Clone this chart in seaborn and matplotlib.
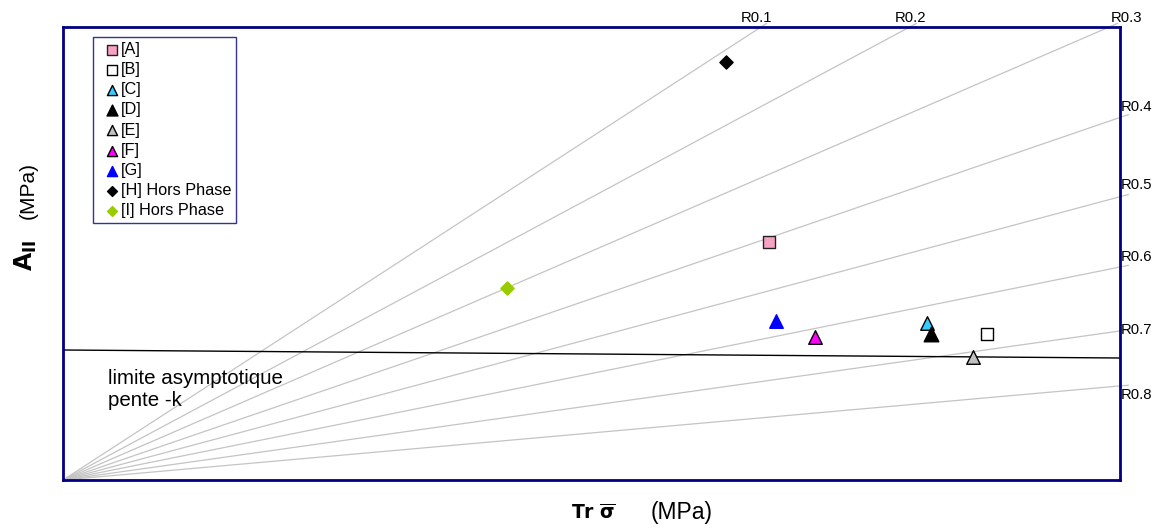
#ratio lines chart
import matplotlib
matplotlib.use("Agg")
import matplotlib.pyplot as plt
import seaborn as sns

# ray labels and their slopes (A / Tr)
ray_names = ['R0.1', 'R0.2', 'R0.3', 'R0.4', 'R0.5', 'R0.6', 'R0.7', 'R0.8']
ray_slopes = [0.649, 0.535, 0.433, 0.343, 0.268, 0.2015, 0.141, 0.089]

# measured points
point_names = ['[A]', '[B]', '[C]', '[D]', '[E]', '[F]', '[G]', '[H] Hors Phase', '[I] Hors Phase']
tr_sigma = [70.6, 92.4, 86.4, 86.8, 91.0, 75.2, 71.3, 66.3, 44.4]
a_ii = [23.8, 14.6, 15.7, 14.6, 12.3, 14.3, 15.9, 41.8, 19.2]

# asymptotic limit line
limit_x = [0, 105.7]
limit_y = [13.0, 12.2]

markers = ['s', 's', '^', '^', '^', '^', '^', 'D', 'D']
fills = ['#f7a1c4', 'white', '#33ccff', 'black', '#c0c0c0', '#ff00ff', '#0000ff', 'black', '#99cc00']
edges = ['#222222', 'black', 'black', 'black', 'black', 'black', '#0000ff', 'black', '#99cc00']
sizes = [85, 85, 95, 110, 95, 95, 95, 45, 45]

sns.set_theme(style='white')
plt.rcParams['font.family'] = ['Liberation Sans', 'DejaVu Sans']
plt.rcParams['text.color'] = 'black'

fig = plt.figure(figsize=(11.61, 5.28), dpi=100)
ax = fig.add_axes([63/1161, 48/528, 1057/1161, 453/528])
xmax, ymax = 105.7, 45.3
ax.set_xlim(0, xmax)
ax.set_ylim(0, ymax)

for name, k in zip(ray_names, ray_slopes):
    xe = min(xmax, ymax / k) * 1.008
    ax.plot([0, xe], [0, xe * k], color='#c4c4c4', lw=0.9, clip_on=False, zorder=1)

# label positions (text layout)
label_pos = [(69.4, 46.2, 'center'), (84.8, 46.2, 'center'), (106.4, 46.2, 'center'),
             (105.8, 37.3, 'left'), (105.8, 29.5, 'left'), (105.8, 22.3, 'left'),
             (105.8, 15.0, 'left'), (105.8, 8.5, 'left')]
for name, (lx, ly, ha) in zip(ray_names, label_pos):
    ax.text(lx, ly, name, ha=ha, va='center', fontsize=10.7, clip_on=False)

ax.plot(limit_x, limit_y, color='black', lw=1, zorder=2)
ax.text(4.5, 10.2, 'limite asymptotique', fontsize=14.8, va='center')
ax.text(4.5, 7.9, 'pente -k', fontsize=14.8, va='center')

for i in range(len(point_names)):
    sns.scatterplot(x=[tr_sigma[i]], y=[a_ii[i]], marker=markers[i], color=fills[i],
                    edgecolor=edges[i], linewidth=1, s=sizes[i], label=point_names[i],
                    ax=ax, zorder=3)

leg = ax.legend(loc='upper left', bbox_to_anchor=(0.028, 0.978), fontsize=11.7,
                frameon=True, fancybox=False, borderpad=0.3, labelspacing=0.32,
                handletextpad=-0.3, handlelength=1.75, borderaxespad=0, markerscale=0.75)
leg.get_frame().set_edgecolor('#000080')
leg.get_frame().set_linewidth(1)

for sp in ax.spines.values():
    sp.set_color('#000080')
    sp.set_linewidth(2)
ax.set_xticks([])
ax.set_yticks([])
ax.set_xlabel('')
ax.set_ylabel('')

fig.text(0.511, 0.017, r'$\mathbf{Tr}\ \overline{\mathbf{\sigma}}$', fontsize=13.5, ha='center')
fig.text(0.560, 0.017, '(MPa)', fontsize=16.5)
fig.text(0.022, 0.517, r'$\mathbf{A}_{\mathbf{II}}$', fontsize=17, rotation=90,
         ha='center', va='center')
fig.text(0.024, 0.640, '(MPa)', fontsize=15, rotation=90, ha='center', va='center')

fig.savefig('out.png', dpi=100)
